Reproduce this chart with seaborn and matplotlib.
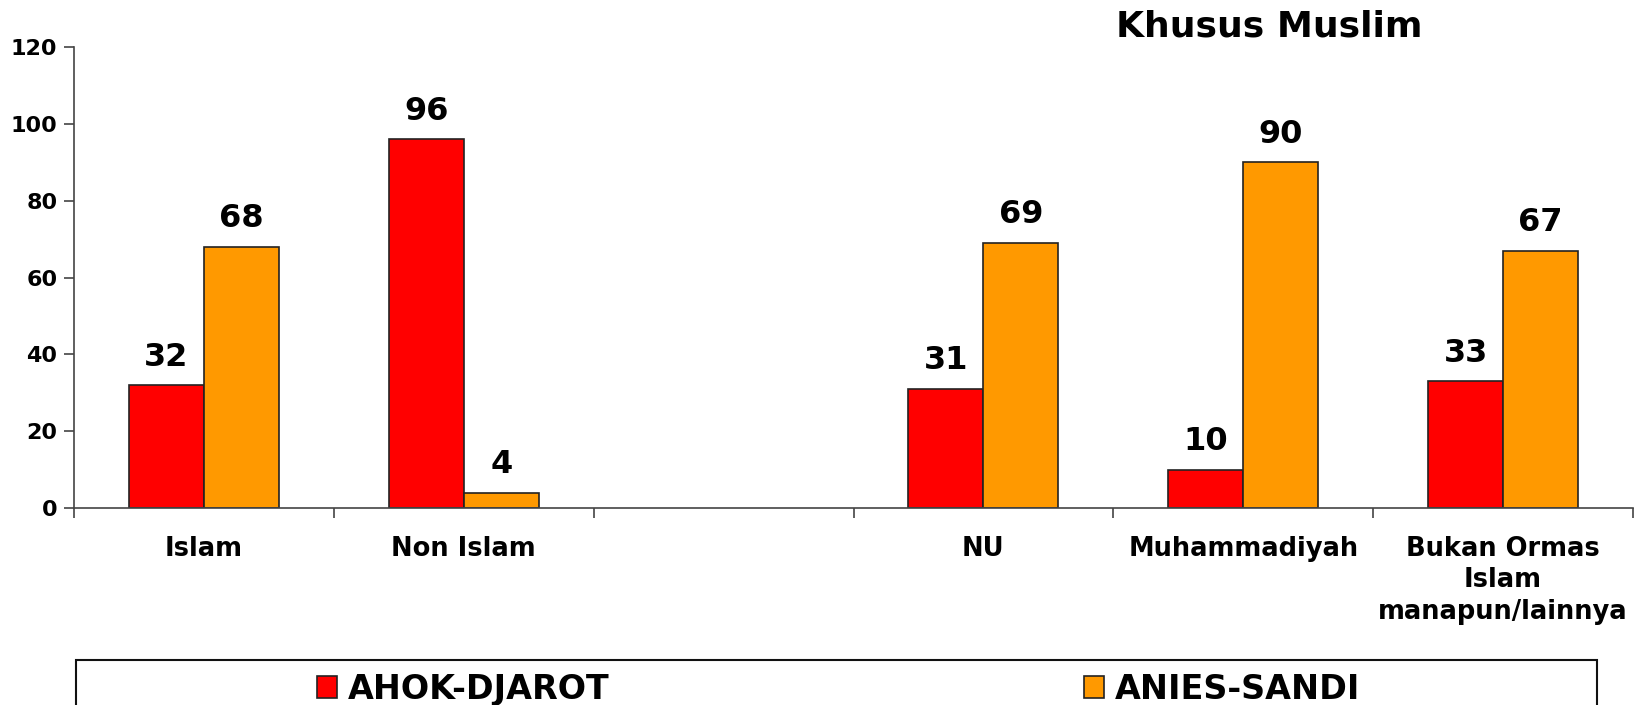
import seaborn as sns
import pandas as pd
import numpy as np
import matplotlib
matplotlib.use("Agg")
import matplotlib.pyplot as plt
from matplotlib.patches import Patch, Rectangle

# data
categories = ["Islam", "Non Islam", "", "NU", "Muhammadiyah",
              "Bukan Ormas\nIslam\nmanapun/lainnya"]
ahok = [32, 96, np.nan, 31, 10, 33]
anies = [68, 4, np.nan, 69, 90, 67]
series = ["AHOK-DJAROT", "ANIES-SANDI"]
colors = ["#FF0000", "#FF9900"]
y_ticks = [0, 20, 40, 60, 80, 100, 120]

df = pd.DataFrame({
    "kategori": categories * 2,
    "pasangan": [series[0]] * len(categories) + [series[1]] * len(categories),
    "persen": ahok + anies,
})

sns.set_style("white")
plt.rcParams["font.family"] = ["DejaVu Sans"]
plt.rcParams["font.weight"] = "bold"
plt.rcParams["text.color"] = "black"
plt.rcParams["xtick.color"] = "black"
plt.rcParams["ytick.color"] = "black"

fig = plt.figure(figsize=(16.49, 7.05), dpi=100)
ax = fig.add_axes([0.0449, 0.2794, 0.9454, 0.6539])

sns.barplot(data=df.dropna(), x="kategori", y="persen", hue="pasangan",
            order=categories, hue_order=series, palette=colors, saturation=1,
            width=0.577, edgecolor="#222222", linewidth=1.2,
            legend=False, ax=ax)

for cont in ax.containers:
    ax.bar_label(cont, fmt="%.0f", padding=9, fontsize=23, fontweight="bold",
                 color="black")

ax.set_xlim(-0.5, len(categories) - 0.5)
ax.set_ylim(0, 120)
ax.set_yticks(y_ticks)
ax.set_yticklabels([str(t) for t in y_ticks], fontsize=16, fontweight="bold")
ax.set_xticks(range(len(categories)))
ax.set_xticklabels(categories, fontsize=18.5, fontweight="bold", linespacing=1.27)
ax.set_xticks(np.arange(-0.5, len(categories), 1), minor=True)
ax.tick_params(axis="x", which="major", length=0, pad=20, colors="black")
ax.tick_params(axis="x", which="minor", length=7, width=1.2, color="#444444",
               direction="out", bottom=True)
ax.tick_params(axis="y", length=7, width=1.2, color="#444444",
               labelcolor="black", direction="out", left=True, pad=5)
ax.set_xlabel("")
ax.set_ylabel("")
sns.despine(ax=ax)
for s in ["left", "bottom"]:
    ax.spines[s].set_color("#444444")
    ax.spines[s].set_linewidth(1.2)

fig.text(0.770, 0.962, "Khusus Muslim", ha="center", va="center",
         fontsize=26, fontweight="bold", color="black")

# legend box (runs past the bottom edge as in the reference)
fig.patches.append(Rectangle((0.0461, -0.1), 0.9224, 0.1638,
                             transform=fig.transFigure, fill=False,
                             edgecolor="#111111", linewidth=1.5))
for name, col, x in zip(series, colors, [0.1922, 0.6574]):
    fig.legend(handles=[Patch(facecolor=col, edgecolor="#222222", linewidth=1.2)],
               labels=[name], loc="center left", bbox_to_anchor=(x, 0.0225),
               frameon=False, borderpad=0, borderaxespad=0,
               handlelength=0.6, handleheight=0.67, handletextpad=0.33,
               prop={"size": 24, "weight": "bold"}, labelcolor="black")

fig.savefig("out.png", dpi=100)
